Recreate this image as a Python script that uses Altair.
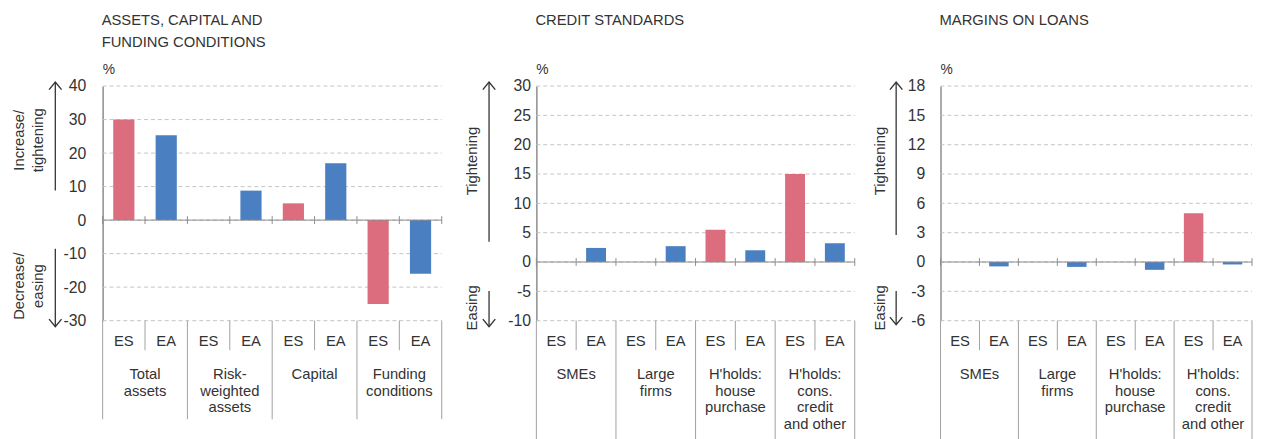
import altair as alt
import pandas as pd

FONT = "Liberation Sans"
TXT = "#333333"
PINK = "#db6d7e"
BLUE = "#4a7fc1"
GRID = "#c4c4c4"
AXC = "#8c8c8c"
SEP = "#a0a0a0"

# ---------------- data ----------------
series = ["ES", "EA"]

left_title = ["ASSETS, CAPITAL AND", "FUNDING CONDITIONS"]
left_groups = ["Total\nassets", "Risk-\nweighted\nassets", "Capital", "Funding\nconditions"]
left_es = [30, 0, 5, -25]
left_ea = [25.3, 8.8, 17, -16]
left_ticks = [-30, -20, -10, 0, 10, 20, 30, 40]

mid_title = ["CREDIT STANDARDS"]
mid_groups = ["SMEs", "Large\nfirms", "H'holds:\nhouse\npurchase", "H'holds:\ncons.\ncredit\nand other"]
mid_es = [0, 0, 5.5, 15]
mid_ea = [2.4, 2.7, 2.0, 3.2]
mid_ticks = [-10, -5, 0, 5, 10, 15, 20, 25, 30]

right_title = ["MARGINS ON LOANS"]
right_groups = ["SMEs", "Large\nfirms", "H'holds:\nhouse\npurchase", "H'holds:\ncons.\ncredit\nand other"]
right_es = [0, 0, 0, 5]
right_ea = [-0.45, -0.5, -0.8, -0.25]
right_ticks = [-6, -3, 0, 3, 6, 9, 12, 15, 18]

H = 238


def panel(title, groups, es, ea, ticks, up_text, down_text, w_layout, w_range, lay):
    rows = []
    for i, g in enumerate(groups):
        for s, v in zip(series, (es[i], ea[i])):
            rows.append({"cat": f"{i}{s}", "series": s, "value": v, "group": g,
                         "last": bool(i == len(groups) - 1 and s == "EA")})
    df = pd.DataFrame(rows)
    cats = list(df["cat"])

    def X(**kw):
        return alt.X("cat:N", sort=cats,
                     scale=alt.Scale(paddingInner=0, paddingOuter=0, range=[0, w_range]),
                     axis=None, **kw)

    def Y():
        return alt.Y("value:Q",
                     scale=alt.Scale(domain=[ticks[0], ticks[-1]], nice=False, zero=False),
                     axis=alt.Axis(values=ticks, tickCount=40, title=None, grid=False,
                                   domainColor=AXC, domainWidth=1.5,
                                   ticks=False, labelPadding=lay["lp"], labelFontSize=16,
                                   labelColor=TXT, labelFont=FONT, labelOverlap=False,
                                   labelExpr="'' + datum.value"))

    base = alt.Chart(df)
    one = alt.Chart(pd.DataFrame({"k": [0]}))
    tick_df = alt.Chart(pd.DataFrame({"value": ticks}))

    grid = tick_df.mark_rule(color=GRID, strokeWidth=1, strokeDash=[4, 3]).encode(
        y=Y(), x=alt.value(0), x2=alt.value(w_range))

    bars = base.mark_bar(width={"band": 0.5}).encode(
        x=X(), y=Y(),
        color=alt.Color("series:N", scale=alt.Scale(domain=series, range=[PINK, BLUE]),
                        legend=None),
    )
    zero = one.mark_rule(color=AXC, strokeWidth=1).encode(
        y=alt.datum(0), x=alt.value(0), x2=alt.value(w_range))
    zticks = base.mark_rule(color=AXC, yOffset=-4, y2Offset=4).encode(
        x=X(bandPosition=0), y=alt.datum(0), y2=alt.datum(0))
    zticks_end = base.transform_filter("datum.last").mark_rule(
        color=AXC, yOffset=-4, y2Offset=4).encode(
        x=X(bandPosition=1), y=alt.datum(0), y2=alt.datum(0))

    sep_short = base.transform_filter("datum.series == 'EA'").mark_rule(color=SEP).encode(
        x=X(bandPosition=0), y=alt.value(H), y2=alt.value(H + 30))
    sep_long = base.transform_filter("datum.series == 'ES'").mark_rule(color=SEP).encode(
        x=X(bandPosition=0), y=alt.value(H), y2=alt.value(H + lay["L"]))
    sep_end = base.transform_filter("datum.last").mark_rule(color=SEP).encode(
        x=X(bandPosition=1), y=alt.value(H), y2=alt.value(H + lay["L"]))

    ser_lab = base.mark_text(fontSize=15, color=TXT, baseline="alphabetic").encode(
        x=X(), y=alt.value(H + 26), text="series:N")
    grp_lab = base.transform_filter("datum.series == 'ES'").mark_text(
        fontSize=15, color=TXT, baseline="alphabetic", lineBreak="\n", lineHeight=17).encode(
        x=X(bandPosition=1), y=alt.value(H + 59), text="group:N")

    ttl = one.mark_text(align="left", baseline="alphabetic", fontSize=15, lineHeight=22,
                        color=TXT).encode(x=alt.value(-1), y=alt.value(-62), text=alt.value(title))
    pct = one.mark_text(align="left", baseline="alphabetic", fontSize=14, color=TXT).encode(
        x=alt.value(0), y=alt.value(-12), text=alt.value("%"))

    ax = lay["ax"]
    up_shaft = one.mark_rule(color="#333333", strokeWidth=1.3).encode(
        x=alt.value(ax), y=alt.value(lay["up"][0]), y2=alt.value(lay["up"][1]))
    dn_shaft = one.mark_rule(color="#333333", strokeWidth=1.3).encode(
        x=alt.value(ax), y=alt.value(lay["dn"][0]), y2=alt.value(lay["dn"][1]))
    up_head = one.mark_point(shape="M-1,1.2L0,0L1,1.2", filled=False, size=160,
                             color="#333333", strokeWidth=1.4, opacity=1).encode(
        x=alt.value(ax), y=alt.value(lay["up"][0]))
    dn_head = one.mark_point(shape="M-1,-1.2L0,0L1,-1.2", filled=False, size=160,
                             color="#333333", strokeWidth=1.4, opacity=1).encode(
        x=alt.value(ax), y=alt.value(lay["dn"][1]))
    up_lab = one.mark_text(angle=270, align="center", baseline="middle", fontSize=15,
                           lineHeight=20, color=TXT).encode(
        x=alt.value(lay["tx"]), y=alt.value(lay["uy"]), text=alt.value(up_text))
    dn_lab = one.mark_text(angle=270, align="center", baseline="middle", fontSize=15,
                           lineHeight=20, color=TXT).encode(
        x=alt.value(lay["tx"]), y=alt.value(lay["dy"]), text=alt.value(down_text))
    # invisible (white) layout anchor fixing the chart's top-left extent
    anchor = one.mark_rule(color="#ffffff", strokeWidth=1).encode(
        x=alt.value(lay["anchor"]), y=alt.value(-75), y2=alt.value(-60))

    return alt.layer(anchor, grid, bars, zero, zticks, zticks_end, sep_short, sep_long, sep_end,
                     ser_lab, grp_lab, ttl, pct, up_shaft, dn_shaft, up_head, dn_head,
                     up_lab, dn_lab).properties(width=w_layout, height=H)


p1 = panel(left_title, left_groups, left_es, left_ea, left_ticks,
           ["Increase/", "tightening"], ["Decrease/", "easing"], 344, 344,
           {"lp": 17, "ax": -48, "up": (-4, 106), "dn": (165, 244), "tx": -85,
            "uy": 55, "dy": 203, "anchor": -95, "L": 100})
p2 = panel(mid_title, mid_groups, mid_es, mid_ea, mid_ticks,
           ["Tightening"], ["Easing"], 314, 323,
           {"lp": 6, "ax": -48, "up": (-4, 158), "dn": (208, 244), "tx": -65,
            "uy": 76, "dy": 225, "anchor": -70, "L": 125})
p3 = panel(right_title, right_groups, right_es, right_ea, right_ticks,
           ["Tightening"], ["Easing"], 316, 316,
           {"lp": 16, "ax": -45, "up": (-4, 151), "dn": (208, 242), "tx": -61,
            "uy": 76, "dy": 225, "anchor": -65, "L": 125})

chart = alt.hconcat(p1, p2, p3, spacing=96, bounds="flush").properties(padding=0).configure(
    font=FONT).configure_view(stroke=None)

chart.save("out.html", embed_options={"renderer": "svg", "actions": False})
